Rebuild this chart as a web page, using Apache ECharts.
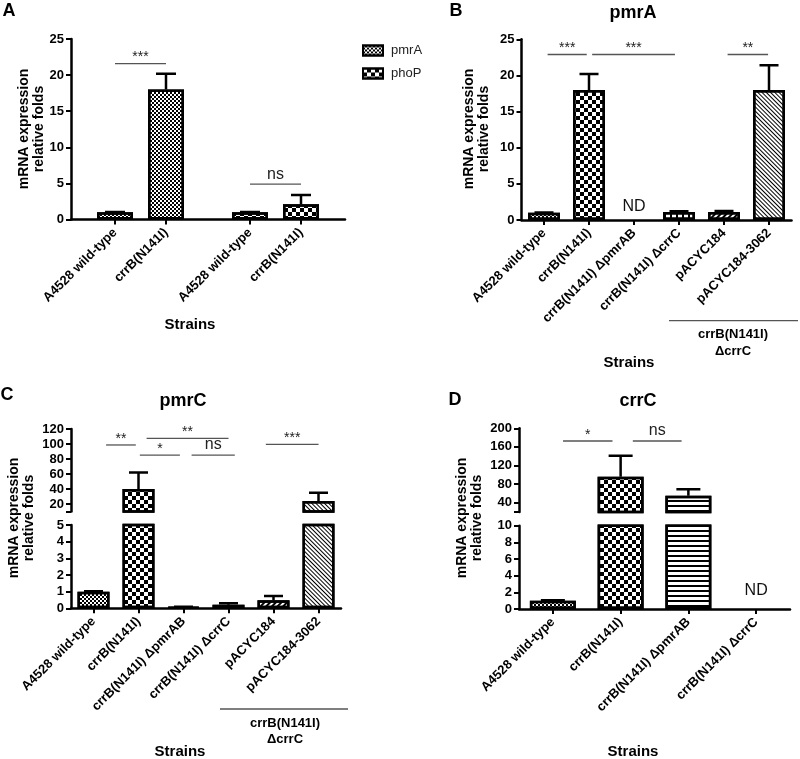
<!DOCTYPE html>
<html><head><meta charset="utf-8">
<script src="https://cdn.jsdelivr.net/npm/echarts@6/dist/echarts.min.js"></script>
<style>html,body{margin:0;padding:0;background:#fff}#c{width:800px;height:759px}</style>
</head><body><div id="c"></div>
<script>
// ---------------- DATA ----------------
const catsA = ['A4528 wild-type', 'crrB(N141I)'];
const seriesNamesA = ['pmrA', 'phoP'];
const pmrA_A = [1, 18];
const pmrA_A_sd = [0.04, 2.2];
const phoP_A = [1, 2.1];
const phoP_A_sd = [0.04, 1.3];

const strainsB = ['A4528 wild-type', 'crrB(N141I)', 'crrB(N141I) ΔpmrAB', 'crrB(N141I) ΔcrrC', 'pACYC184', 'pACYC184-3062'];
const pmrA_B = [1, 18, null, 1.1, 1.1, 18];
const pmrA_B_sd = [0.04, 2.2, null, 0.1, 0.15, 3.4];

const strainsC = ['A4528 wild-type', 'crrB(N141I)', 'crrB(N141I) ΔpmrAB', 'crrB(N141I) ΔcrrC', 'pACYC184', 'pACYC184-3062'];
const pmrC_C = [1, 40, 0.08, 0.22, 0.48, 24];
const pmrC_C_sd = [0.03, 22, 0.02, 0.08, 0.26, 11];

const strainsD = ['A4528 wild-type', 'crrB(N141I)', 'crrB(N141I) ΔpmrAB', 'crrB(N141I) ΔcrrC'];
const crrC_D = [1, 96, 55, null];
const crrC_D_sd = [0.04, 45, 14, null];

const ticksCUpper = [20, 40, 60, 80, 100, 120];
const ticksDUpper = [40, 80, 120, 160, 200];

// significance brackets: [from category pos, to category pos, y value, label]
const sigA_pmrA = [[0, 1, 21.6, '***']];
const sigA_phoP = [[0, 1, 4.9, 'ns']];
const sigB = [[0.08, 0.95, 22.9, '***'], [1.07, 2.91, 22.9, '***'], [4.08, 4.98, 22.9, '**']];
const sigC = [[0.28, 0.94, 98.7, '**'], [1.18, 3.0, 107.6, '**'], [1.03, 1.92, 85.3, '*'], [2.18, 3.14, 85.3, 'ns'], [3.83, 5.0, 99.6, '***']];
const sigD = [[0.15, 0.88, 172.7, '*'], [1.18, 1.9, 172.7, 'ns']];

// ---------------- STYLE ----------------
const FONT = '"Liberation Sans", Arial, sans-serif';
const dec = (extra) => Object.assign({symbol: 'rect', symbolSize: 1, color: '#000'}, extra);
const PAT = {
  fine: dec({dashArrayX: [[2, 2], [0, 2, 2, 0]], dashArrayY: [2, 0]}),
  checker: dec({dashArrayX: [[4, 4], [0, 4, 4, 0]], dashArrayY: [4, 0]}),
  hlines: dec({dashArrayX: [1, 0], dashArrayY: [1.3, 3]}),
  vlines: dec({dashArrayX: [1, 0], dashArrayY: [1.3, 3.7], rotation: Math.PI / 2}),
  fwd: dec({dashArrayX: [1, 0], dashArrayY: [1.4, 1.8], rotation: -Math.PI / 4}),
  back: dec({dashArrayX: [1, 0], dashArrayY: [1, 2], rotation: Math.PI / 4})
};
const patB = ['fine', 'checker', 'hlines', 'vlines', 'fwd', 'back'];
const patD = ['fine', 'checker', 'hlines', 'vlines'];

function bar(name, idx, vals, pats, width, minCut) {
  return {
    type: 'bar', name: name, xAxisIndex: idx, yAxisIndex: idx, barWidth: width, clip: true, silent: true, z: 2,
    itemStyle: {color: '#fff', borderColor: '#000', borderWidth: 2.5, decal: PAT[pats[0]]},
    data: vals.map((v, i) => ({
      value: (v == null || (minCut != null && v <= minCut)) ? '-' : v,
      itemStyle: {decal: PAT[pats[i]]}
    }))
  };
}
function errs(idx, vals, sds, capW) {
  return {
    type: 'custom', xAxisIndex: idx, yAxisIndex: idx, clip: true, silent: true, z: 3,
    data: vals.map((v, i) => v == null ? [i, '-', '-'] : [i, v, v + sds[i]]),
    renderItem(params, api) {
      const i = api.value(0), m = api.value(1), t = api.value(2);
      if (isNaN(m) || isNaN(t)) return null;
      const p0 = api.coord([i, m]), p1 = api.coord([i, t]);
      const st = {stroke: '#000', lineWidth: 2.5};
      return {type: 'group', children: [
        {type: 'line', shape: {x1: p0[0], y1: p0[1], x2: p1[0], y2: p1[1]}, style: st},
        {type: 'line', shape: {x1: p1[0] - capW / 2, y1: p1[1], x2: p1[0] + capW / 2, y2: p1[1]}, style: st}
      ]};
    }
  };
}
function sig(idx, arr) {
  return {
    type: 'custom', xAxisIndex: idx, yAxisIndex: idx, clip: false, silent: true, z: 4,
    data: arr.map(s => [0, s[2]]),
    renderItem(params, api) {
      const s = arr[params.dataIndex];
      const base = api.coord([0, s[2]]);
      const slot = api.size([1, 0])[0];
      const x1 = base[0] + s[0] * slot, x2 = base[0] + s[1] * slot, y = base[1];
      const ns = s[3] === 'ns';
      return {type: 'group', children: [
        {type: 'line', shape: {x1: x1, y1: y, x2: x2, y2: y}, style: {stroke: '#555', lineWidth: 1.3}},
        {type: 'text', x: (x1 + x2) / 2, y: ns ? y - 2 : y + 1,
         style: {text: s[3], align: 'center', verticalAlign: 'bottom', font: (ns ? '16px ' : '14px ') + FONT, fill: '#222'}}
      ]};
    }
  };
}
function nd(idx, vals, off) {
  return {
    type: 'custom', xAxisIndex: idx, yAxisIndex: idx, clip: false, silent: true, z: 4,
    data: vals.map((v, i) => [i, 0]).filter((d, i) => vals[i] == null),
    renderItem(params, api) {
      const p = api.coord([api.value(0), 0]);
      return {type: 'text', x: p[0], y: p[1] - off,
        style: {text: 'ND', align: 'center', verticalAlign: 'bottom', font: '16px ' + FONT, fill: '#111'}};
    }
  };
}

const axLine = {show: true, onZero: false, lineStyle: {color: '#000', width: 2.5}};
const axTick = {show: true, length: 5, lineStyle: {color: '#000', width: 2}};
const yLab = {color: '#000', fontFamily: FONT, fontWeight: 'bold', fontSize: 13, margin: 7};
const xLab = {interval: 0, rotate: 45, margin: 11, color: '#000', fontFamily: FONT, fontWeight: 'bold', fontSize: 13};

function grid(l, t, w, h) { return {left: l, top: t, width: w, height: h, containLabel: false, outerBoundsMode: 'none'}; }

const grids = [
  grid(71, 39, 274, 180.5),      // 0 A base
  grid(89.5, 39, 102, 180.5),    // 1 A pmrA
  grid(224.5, 39, 102, 180.5),   // 2 A phoP
  grid(521.5, 39.3, 270, 180.7), // 3 B
  grid(71, 429, 270, 82.5),      // 4 C upper
  grid(71, 525, 270, 83.3),      // 5 C lower
  grid(519, 428.3, 271, 83.7),   // 6 D upper
  grid(519, 525.7, 271, 83.3)    // 7 D lower
];

const hiddenCat = (gi, cats) => ({type: 'category', gridIndex: gi, data: cats, show: false});
const shownCat = (gi, cats, line) => ({type: 'category', gridIndex: gi, data: cats, axisLine: line ? axLine : {show: false},
  axisTick: Object.assign({alignWithLabel: true, interval: 0}, axTick), axisLabel: xLab, splitLine: {show: false}});

const xAxes = [
  {type: 'value', gridIndex: 0, min: 0, max: 1, axisLine: axLine, axisTick: {show: false}, axisLabel: {show: false}, splitLine: {show: false}},
  shownCat(1, catsA, false),
  shownCat(2, catsA, false),
  shownCat(3, strainsB, true),
  hiddenCat(4, strainsC),
  shownCat(5, strainsC, true),
  hiddenCat(6, strainsD),
  shownCat(7, strainsD, true)
];

const valY = (gi, min, max, interval) => ({type: 'value', gridIndex: gi, min: min, max: max, interval: interval,
  axisLine: axLine, axisTick: axTick, axisLabel: yLab, splitLine: {show: false}});
const yAxes = [
  valY(0, 0, 25, 5),
  {type: 'value', gridIndex: 1, min: 0, max: 25, show: false},
  {type: 'value', gridIndex: 2, min: 0, max: 25, show: false},
  valY(3, 0, 25, 5),
  {type: 'value', gridIndex: 4, min: 10, max: 120, axisLine: axLine,
   axisTick: Object.assign({customValues: [10].concat(ticksCUpper)}, axTick),
   axisLabel: Object.assign({customValues: ticksCUpper}, yLab), splitLine: {show: false}},
  valY(5, 0, 5, 1),
  {type: 'value', gridIndex: 6, min: 20, max: 200, axisLine: axLine,
   axisTick: Object.assign({customValues: [20].concat(ticksDUpper)}, axTick),
   axisLabel: Object.assign({customValues: ticksDUpper}, yLab), splitLine: {show: false}},
  valY(7, 0, 10, 2)
];

const series = [
  bar(seriesNamesA[0], 1, pmrA_A, ['fine', 'fine'], 36),
  errs(1, pmrA_A, pmrA_A_sd, 20),
  sig(1, sigA_pmrA),
  bar(seriesNamesA[1], 2, phoP_A, ['checker', 'checker'], 36),
  errs(2, phoP_A, phoP_A_sd, 20),
  sig(2, sigA_phoP),

  bar('B', 3, pmrA_B, patB, 32),
  errs(3, pmrA_B, pmrA_B_sd, 19),
  sig(3, sigB),
  nd(3, pmrA_B, 5),

  bar('Cu', 4, pmrC_C, patB, 32, 10),
  errs(4, pmrC_C, pmrC_C_sd, 19),
  sig(4, sigC),
  bar('Cl', 5, pmrC_C, patB, 32),
  errs(5, pmrC_C, pmrC_C_sd, 19),

  bar('Du', 6, crrC_D, patD, 46, 20),
  errs(6, crrC_D, crrC_D_sd, 24),
  sig(6, sigD),
  bar('Dl', 7, crrC_D, patD, 46),
  errs(7, crrC_D, crrC_D_sd, 24),
  nd(7, crrC_D, 10)
];

const T = (x, y, text, font, extra) => ({type: 'text', x: x, y: y, silent: true,
  style: Object.assign({text: text, font: font, align: 'center', verticalAlign: 'middle', fill: '#000'}, extra || {})});
const TR = (x, y, text) => ({type: 'text', x: x, y: y, rotation: Math.PI / 2, silent: true,
  style: {text: text, font: 'bold 14px ' + FONT, align: 'center', verticalAlign: 'middle', fill: '#000', lineHeight: 15}});
const L = (x1, x2, y) => ({type: 'line', silent: true, shape: {x1: x1, y1: y, x2: x2, y2: y}, style: {stroke: '#555', lineWidth: 1.3}});

const yTitle = 'mRNA expression\nrelative folds';
const graphic = [
  T(9, 11, 'A', 'bold 18px ' + FONT),
  T(456, 11, 'B', 'bold 18px ' + FONT),
  T(7, 395, 'C', 'bold 18px ' + FONT),
  T(455, 400, 'D', 'bold 18px ' + FONT),
  T(633, 13, 'pmrA', 'bold 18px ' + FONT),
  T(183, 401, 'pmrC', 'bold 18px ' + FONT),
  T(638, 401, 'crrC', 'bold 18px ' + FONT),
  TR(32, 129, yTitle),
  TR(477, 129, yTitle),
  TR(22, 518, yTitle),
  TR(470, 518, yTitle),
  T(190, 325, 'Strains', 'bold 15px ' + FONT),
  T(629, 363, 'Strains', 'bold 15px ' + FONT),
  T(180, 752, 'Strains', 'bold 15px ' + FONT),
  T(633, 752, 'Strains', 'bold 15px ' + FONT),
  L(669, 798, 320.7),
  T(733, 334, 'crrB(N141I)', 'bold 13px ' + FONT),
  T(733, 351, 'ΔcrrC', 'bold 13px ' + FONT),
  L(220, 348, 709),
  T(285, 723, 'crrB(N141I)', 'bold 13px ' + FONT),
  T(285, 739.5, 'ΔcrrC', 'bold 13px ' + FONT)
];

const chart = echarts.init(document.getElementById('c'), null, {renderer: 'canvas'});
chart.setOption({
  backgroundColor: '#fff',
  animation: false,
  legend: {show: true, orient: 'vertical', left: 362, top: 44, padding: 0, itemWidth: 20, itemHeight: 10, itemGap: 10,
    icon: 'rect', selectedMode: false, data: seriesNamesA,
    textStyle: {fontFamily: FONT, fontSize: 13, color: '#222', padding: [0, 0, 0, 3]}},
  grid: grids,
  xAxis: xAxes,
  yAxis: yAxes,
  series: series,
  graphic: graphic
});
</script></body></html>
